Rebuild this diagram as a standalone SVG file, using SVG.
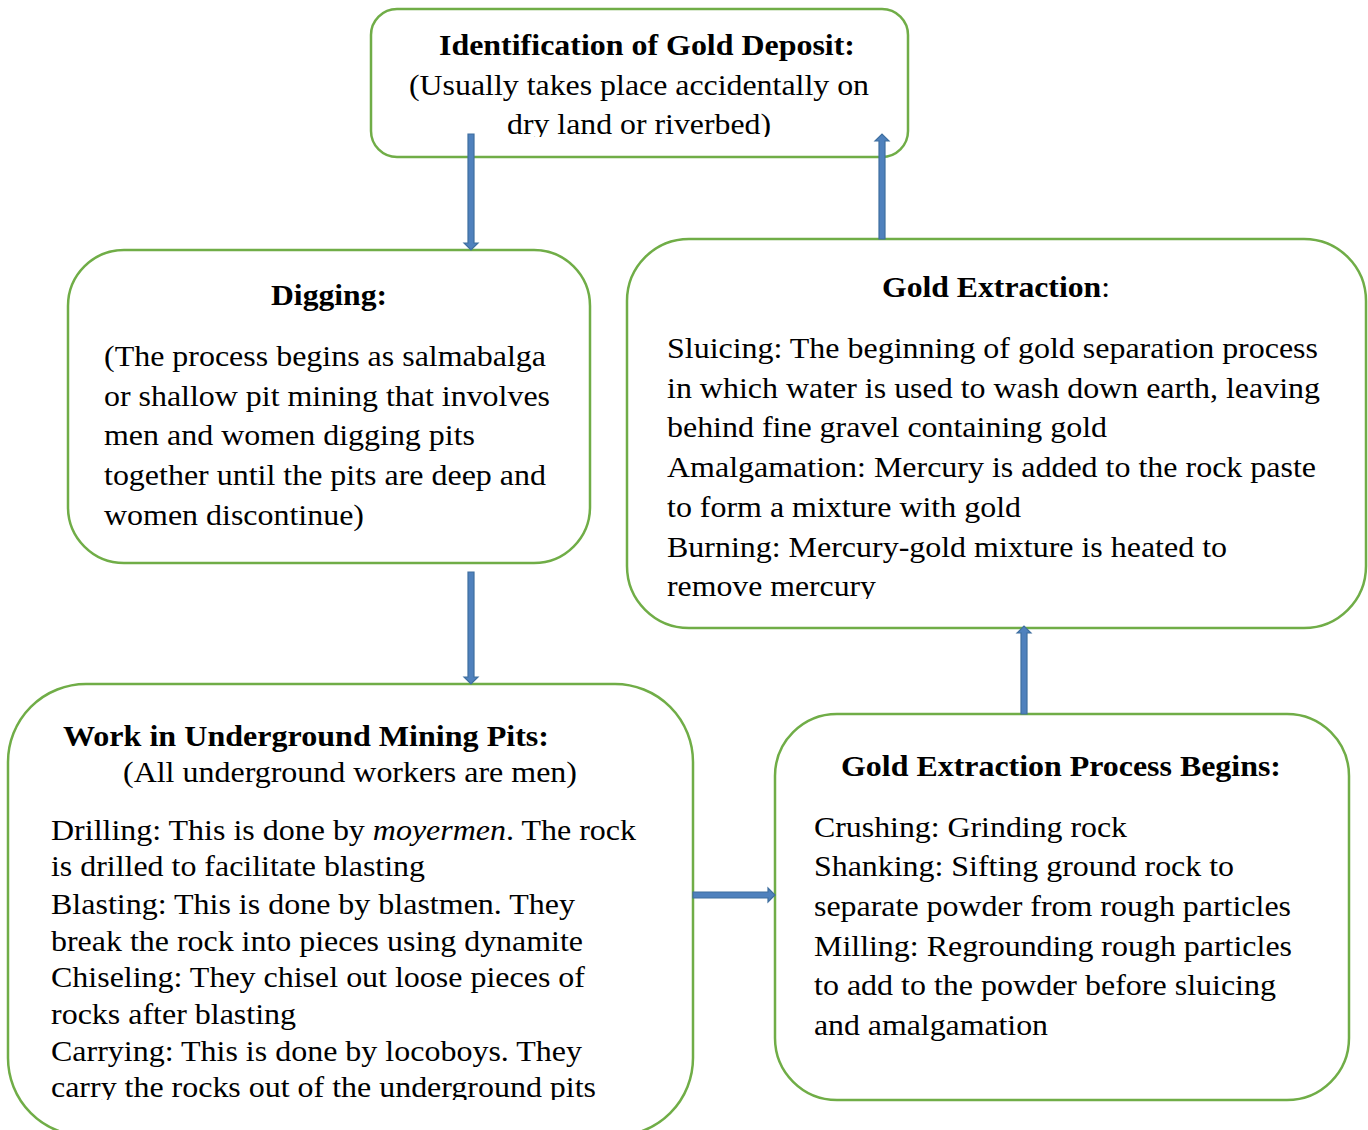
<svg xmlns="http://www.w3.org/2000/svg" width="1368" height="1130" viewBox="0 0 1368 1130">
  <style>
    .box { fill: none; stroke: #70ad47; stroke-width: 2.5; }
    .t { font-family: "Liberation Serif", "Times New Roman", serif; font-size: 28.5px; fill: #000; }
    .b { font-weight: bold; }
    .arrow { fill: #4f81bd; stroke: #3f6f9f; stroke-width: 1.2; }
  </style>
  <defs>
    <clipPath id="clipTop"><rect x="371" y="0" width="540" height="137"/></clipPath>
    <clipPath id="clipExtr"><rect x="627" y="239" width="740" height="360"/></clipPath>
    <clipPath id="clipWork"><rect x="0" y="684" width="700" height="416"/></clipPath>
  </defs>

  <rect width="1368" height="1130" fill="#fff"/>

  <!-- Identification of Gold Deposit -->
  <g id="identification">
    <rect class="box" x="371" y="9" width="537" height="148" rx="26" ry="26"/>
    <text class="t b" x="439" y="55" textLength="416" lengthAdjust="spacingAndGlyphs">Identification of Gold Deposit:</text>
    <text class="t" x="409" y="95" textLength="460" lengthAdjust="spacingAndGlyphs">(Usually takes place accidentally on</text>
    <text class="t" x="507" y="134" textLength="264" lengthAdjust="spacingAndGlyphs" clip-path="url(#clipTop)">dry land or riverbed)</text>
  </g>

  <!-- Digging -->
  <g id="digging">
    <rect class="box" x="68" y="250" width="522" height="313" rx="56" ry="56"/>
    <text class="t b" x="271" y="305" textLength="116" lengthAdjust="spacingAndGlyphs">Digging:</text>
    <text class="t" x="104" y="366" textLength="442" lengthAdjust="spacingAndGlyphs">(The process begins as salmabalga</text>
    <text class="t" x="104" y="406" textLength="446" lengthAdjust="spacingAndGlyphs">or shallow pit mining that involves</text>
    <text class="t" x="104" y="445" textLength="371" lengthAdjust="spacingAndGlyphs">men and women digging pits</text>
    <text class="t" x="104" y="485" textLength="442" lengthAdjust="spacingAndGlyphs">together until the pits are deep and</text>
    <text class="t" x="104" y="525" textLength="260" lengthAdjust="spacingAndGlyphs">women discontinue)</text>
  </g>

  <!-- Gold Extraction -->
  <g id="gold-extraction">
    <rect class="box" x="627" y="239" width="739" height="389" rx="62" ry="62"/>
    <text class="t" x="882" y="297" textLength="228" lengthAdjust="spacingAndGlyphs"><tspan class="b">Gold Extraction</tspan>:</text>
    <g clip-path="url(#clipExtr)">
      <text class="t" x="667" y="358" textLength="651" lengthAdjust="spacingAndGlyphs">Sluicing: The beginning of gold separation process</text>
      <text class="t" x="667" y="398" textLength="653" lengthAdjust="spacingAndGlyphs">in which water is used to wash down earth, leaving</text>
      <text class="t" x="667" y="437" textLength="440" lengthAdjust="spacingAndGlyphs">behind fine gravel containing gold</text>
      <text class="t" x="667" y="477" textLength="649" lengthAdjust="spacingAndGlyphs">Amalgamation: Mercury is added to the rock paste</text>
      <text class="t" x="667" y="517" textLength="354" lengthAdjust="spacingAndGlyphs">to form a mixture with gold</text>
      <text class="t" x="667" y="557" textLength="560" lengthAdjust="spacingAndGlyphs">Burning: Mercury-gold mixture is heated to</text>
      <text class="t" x="667" y="596" textLength="209" lengthAdjust="spacingAndGlyphs">remove mercury</text>
    </g>
  </g>

  <!-- Work in Underground Mining Pits -->
  <g id="underground-work">
    <rect class="box" x="8" y="684" width="685" height="452" rx="78" ry="78"/>
    <text class="t b" x="63" y="746" textLength="486" lengthAdjust="spacingAndGlyphs">Work in Underground Mining Pits:</text>
    <text class="t" x="123" y="782" textLength="454" lengthAdjust="spacingAndGlyphs">(All underground workers are men)</text>
    <g clip-path="url(#clipWork)">
      <text class="t" x="51" y="840" textLength="585" lengthAdjust="spacingAndGlyphs">Drilling: This is done by <tspan font-style="italic">moyermen</tspan>. The rock</text>
      <text class="t" x="51" y="876" textLength="374" lengthAdjust="spacingAndGlyphs">is drilled to facilitate blasting</text>
      <text class="t" x="51" y="914" textLength="524" lengthAdjust="spacingAndGlyphs">Blasting: This is done by blastmen. They</text>
      <text class="t" x="51" y="951" textLength="532" lengthAdjust="spacingAndGlyphs">break the rock into pieces using dynamite</text>
      <text class="t" x="51" y="987" textLength="534" lengthAdjust="spacingAndGlyphs">Chiseling: They chisel out loose pieces of</text>
      <text class="t" x="51" y="1024" textLength="245" lengthAdjust="spacingAndGlyphs">rocks after blasting</text>
      <text class="t" x="51" y="1061" textLength="531" lengthAdjust="spacingAndGlyphs">Carrying: This is done by locoboys. They</text>
      <text class="t" x="51" y="1097" textLength="545" lengthAdjust="spacingAndGlyphs">carry the rocks out of the underground pits</text>
    </g>
  </g>

  <!-- Gold Extraction Process Begins -->
  <g id="process-begins">
    <rect class="box" x="775" y="714" width="574" height="386" rx="62" ry="62"/>
    <text class="t b" x="841" y="776" textLength="440" lengthAdjust="spacingAndGlyphs">Gold Extraction Process Begins:</text>
    <text class="t" x="814" y="837" textLength="313" lengthAdjust="spacingAndGlyphs">Crushing: Grinding rock</text>
    <text class="t" x="814" y="876" textLength="420" lengthAdjust="spacingAndGlyphs">Shanking: Sifting ground rock to</text>
    <text class="t" x="814" y="916" textLength="477" lengthAdjust="spacingAndGlyphs">separate powder from rough particles</text>
    <text class="t" x="814" y="956" textLength="478" lengthAdjust="spacingAndGlyphs">Milling: Regrounding rough particles</text>
    <text class="t" x="814" y="995" textLength="462" lengthAdjust="spacingAndGlyphs">to add to the powder before sluicing</text>
    <text class="t" x="814" y="1035" textLength="234" lengthAdjust="spacingAndGlyphs">and amalgamation</text>
  </g>

  <!-- Connectors -->
  <g id="connectors">
    <!-- identification -> digging -->
    <path class="arrow" d="M468,134 H474 V243 H478 L471,250 L464,243 H468 Z"/>
    <!-- digging -> underground work -->
    <path class="arrow" d="M468,572 H474 V677 H478 L471,684 L464,677 H468 Z"/>
    <!-- underground work -> process begins -->
    <path class="arrow" d="M693,892 V898 H768 V902 L775,895 L768,888 V892 Z"/>
    <!-- process begins -> gold extraction -->
    <path class="arrow" d="M1021,714 H1027 V633 H1031 L1024,626 L1017,633 H1021 Z"/>
    <!-- gold extraction -> identification -->
    <path class="arrow" d="M879,239 H885 V141 H889 L882,134 L875,141 H879 Z"/>
  </g>
</svg>
